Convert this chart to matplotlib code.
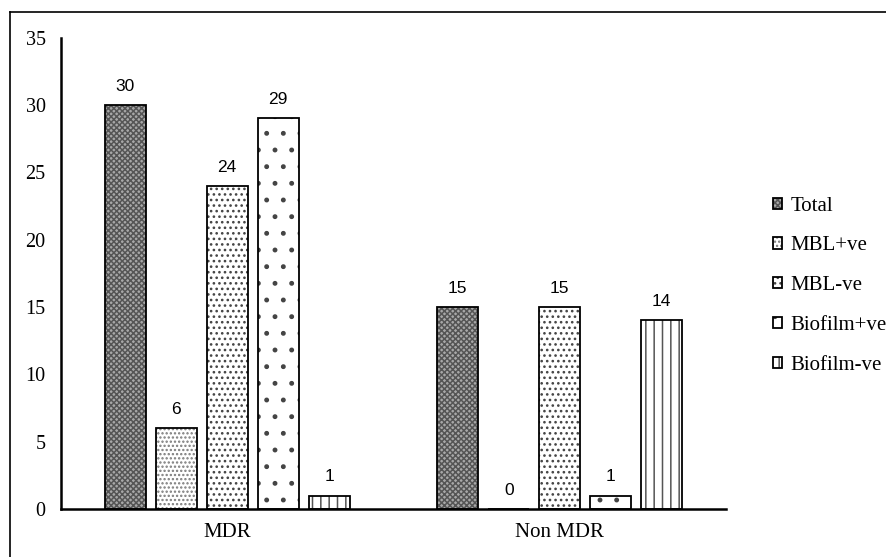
import numpy as np
import matplotlib.pyplot as plt
from matplotlib.colors import to_rgba
from matplotlib.lines import Line2D

# data
groups = ['MDR', 'Non MDR']
series = ['Total', 'MBL+ve', 'MBL-ve', 'Biofilm+ve', 'Biofilm-ve']
total = [30, 15]
mbl_pos = [6, 0]
mbl_neg = [24, 15]
bio_pos = [29, 1]
bio_neg = [1, 14]
values = [total, mbl_pos, mbl_neg, bio_pos, bio_neg]

# looks
hatches = ['xxxxxx', '....', '...', '.', '||']
faces = ['#a8a8a8', 'white', 'white', 'white', 'white']
hcolors = ['#555555', '#7a7a7a', '#444444', '#444444', '#555555']

serif = ['Liberation Serif', 'DejaVu Serif']
sans = ['Liberation Sans', 'DejaVu Sans']

plt.rcParams['hatch.linewidth'] = 1.1

fig = plt.figure(figsize=(8.86, 5.57), dpi=100)
ax = fig.add_axes([0.0688, 0.0862, 0.7506, 0.8463])

x = np.arange(len(groups))
step = 0.1534
width = 0.1233

for i, (name, vals) in enumerate(zip(series, values)):
    pos = x + (i - 2) * step
    bars = ax.bar(pos, vals, width, label=name, facecolor=faces[i],
                  edgecolor='black', linewidth=1.3, hatch=hatches[i])
    for b in bars:
        b._hatch_color = to_rgba(hcolors[i])
    for p, v in zip(pos, vals):
        ax.annotate(str(v), (p, v), xytext=(0, 8), textcoords='offset points',
                    ha='center', va='bottom', fontsize=12.5, family=sans)

ax.set_xlim(-0.5, 1.5)
ax.set_ylim(0, 35)
ax.set_yticks(range(0, 36, 5))
ax.set_xticks(x)
ax.set_xticklabels(groups, family=serif, fontsize=15)
for t in ax.get_yticklabels():
    t.set_family(serif)
    t.set_fontsize(14.5)
ax.tick_params(length=0)
ax.tick_params(axis='y', pad=11)
ax.tick_params(axis='x', pad=10)
ax.spines['top'].set_visible(False)
ax.spines['right'].set_visible(False)
ax.spines['left'].set_linewidth(1.8)
ax.spines['bottom'].set_linewidth(1.8)

leg = fig.legend(loc='center left', bbox_to_anchor=(0.8725, 0.487),
                 frameon=False, prop={'family': serif, 'size': 15},
                 handlelength=0.45, handleheight=0.45, handletextpad=0.4,
                 labelspacing=1.0, borderpad=0, borderaxespad=0)

# outer frame (clipped on right and bottom)
fig.add_artist(Line2D([0.0113, 1.0], [0.9785, 0.9785], color='black',
                      linewidth=1.2, transform=fig.transFigure))
fig.add_artist(Line2D([0.0113, 0.0113], [0.0, 0.9785], color='black',
                      linewidth=1.2, transform=fig.transFigure))

fig.savefig('out.png', dpi=100)
